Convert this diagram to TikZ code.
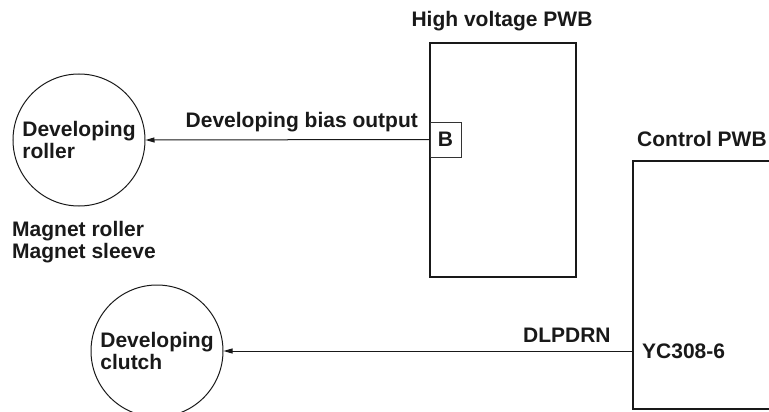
\documentclass[tikz,border=0pt]{standalone}
\usepackage{fontspec}
\setmainfont{Liberation Sans}
\usetikzlibrary{arrows.meta,positioning}

\begin{document}
\begin{tikzpicture}[
    x=1pt, y=-1pt,
    every node/.style={font=\fontsize{21}{22.5}\selectfont\bfseries, text=black!90, inner sep=0pt},
    part/.style={circle, draw=black!90, line width=1pt, minimum size=132pt, align=left},
    board/.style={rectangle, draw=black!90, line width=1.4pt},
    pin/.style={rectangle, draw=black!80, line width=0.8pt, minimum width=31pt, minimum height=35pt},
    tag/.style={align=left},
    arrow/.style={-{Triangle[length=9pt, width=5pt]}, line width=1pt, draw=black!90}
]

% Picture frame
\clip (0,0) rectangle (769,412);

% Boards
\node[board, minimum width=146pt, minimum height=234pt] (hv) at (503,160) {};
\node[tag] (hvname) at (502,21) {High voltage PWB};
\node[pin] (b) at (445.5,139.5) {B};
\node[board, minimum width=170pt, minimum height=248pt] (ctrl) at (718,285) {};
\node[tag, anchor=west] (ctrlname) at (637,139) {Control PWB};
\node[tag, anchor=west] (yc) at (642,351) {YC308-6};

% Parts
\node[part] (roller) at (79,140) {Developing\\roller};
\node[part] (clutch) at (157,351) {Developing\\clutch};
\node[tag, anchor=west] (magnet) at (12,242) {Magnet roller\\Magnet sleeve};

% Signals
\draw[arrow] (b.west) -- (roller.east) node[pos=0.45, above=7pt] {Developing bias output};
\draw[arrow] (ctrl.west |- yc.west) -- (clutch.east) node[pos=0.16, above=8pt] {DLPDRN};

\end{tikzpicture}
\end{document}
